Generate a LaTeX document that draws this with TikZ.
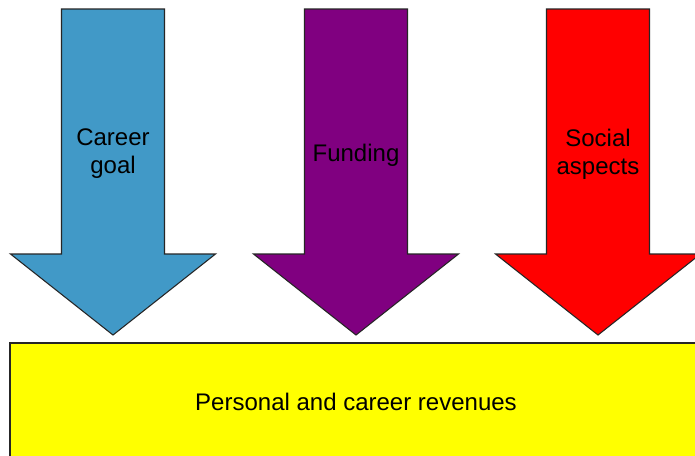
\documentclass[tikz,border=0pt]{standalone}
\usepackage[rgb]{xcolor}
\usepackage{fontspec}
\setmainfont{Liberation Sans}
\usepackage{tikz}
\definecolor{goalblue}{HTML}{4199C7}
\definecolor{fundpurple}{HTML}{800080}
\definecolor{socialred}{HTML}{FF0000}
\definecolor{revyellow}{HTML}{FFFF00}
\definecolor{rim}{gray}{0.15}
\tikzset{
  bigarrow/.style={draw=rim, line width=0.8pt, line join=miter},
  label/.style={align=center, font=\fontsize{18}{21}\selectfont},
}

\begin{document}
\begin{tikzpicture}[x=0.75pt, y=-0.75pt]
    \clip (0,0) rectangle (695,455);
    \fill[white] (0,0) rectangle (695,455);
    % the three arrows pointing down
    \foreach \cx/\col in {113/goalblue, 356/fundpurple, 598/socialred}{
      \path[bigarrow, fill=\col]
        (\cx-51.5, 9) -- (\cx+51.5, 9) -- (\cx+51.5, 254)
        -- (\cx+102.5, 254) -- (\cx, 335) -- (\cx-102.5, 254)
        -- (\cx-51.5, 254) -- cycle;
    }
    \node[label] (goal) at (113,154) {Career\\goal};
    \node[label] (funding) at (356,155) {Funding};
    \node[label] (social) at (598,154) {Social\\aspects};
    % the box below
    \path[bigarrow, fill=revyellow] (10,343) rectangle (720,480);
    \node[label] (revenues) at (356,402) {Personal and career revenues};
  \end{tikzpicture}
\end{document}
